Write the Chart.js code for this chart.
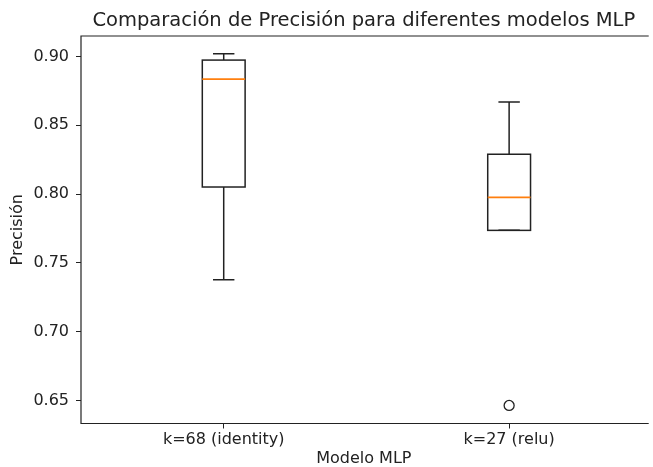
<!DOCTYPE html>
<html>
<head>
<meta charset="utf-8">
<script src="https://cdn.jsdelivr.net/npm/chart.js@4.4.1/dist/chart.umd.min.js"></script>
<style>
  html, body { margin: 0; padding: 0; overflow: hidden; background: #fff; }
</style>
</head>
<body>
<canvas id="boxChart" width="653" height="467"></canvas>
<script>
// data
const modelos = ["k=68 (identity)", "k=27 (relu)"];
const whiskerLow = [0.7378, 0.7736];
const q1 = [0.8051, 0.7736];
const median = [0.8835, 0.7976];
const q3 = [0.8973, 0.8289];
const whiskerHigh = [0.9019, 0.8668];
const outliers = [[], [0.6464]];
const yTicks = [0.65, 0.70, 0.75, 0.80, 0.85, 0.90];

const ink = "#222";
const boxWidth = 0.15; // in x units, like matplotlib
// the original figure is cut on the right, the axis would end at 2.5
const xMaxVisible = 2.482;

Chart.defaults.font.family = "'DejaVu Sans', sans-serif";
Chart.defaults.color = ink;

const flierPoints = [];
outliers.forEach((vals, i) => {
  vals.forEach((v) => flierPoints.push({ x: i + 1, y: v }));
});

const boxPlugin = {
  id: "boxes",
  beforeDatasetsDraw(chart) {
    const { ctx, chartArea } = chart;
    const xs = chart.scales.x;
    const ys = chart.scales.y;
    ctx.save();
    // spines (right one is outside the picture)
    ctx.strokeStyle = ink;
    ctx.lineWidth = 1.2;
    ctx.beginPath();
    ctx.moveTo(chartArea.right + 2, chartArea.top);
    ctx.lineTo(chartArea.left, chartArea.top);
    ctx.lineTo(chartArea.left, chartArea.bottom);
    ctx.lineTo(chartArea.right + 2, chartArea.bottom);
    ctx.stroke();

    modelos.forEach((m, i) => {
      const cx = xs.getPixelForValue(i + 1);
      const half = xs.getPixelForValue(i + 1 + boxWidth / 2) - cx;
      const yq1 = ys.getPixelForValue(q1[i]);
      const yq3 = ys.getPixelForValue(q3[i]);
      const ylo = ys.getPixelForValue(whiskerLow[i]);
      const yhi = ys.getPixelForValue(whiskerHigh[i]);
      const ymed = ys.getPixelForValue(median[i]);

      ctx.strokeStyle = ink;
      ctx.lineWidth = 1.5;
      ctx.strokeRect(cx - half, yq3, half * 2, yq1 - yq3);

      ctx.beginPath();
      ctx.moveTo(cx, yq3); ctx.lineTo(cx, yhi);
      ctx.moveTo(cx, yq1); ctx.lineTo(cx, ylo);
      ctx.moveTo(cx - half / 2, yhi); ctx.lineTo(cx + half / 2, yhi);
      ctx.moveTo(cx - half / 2, ylo); ctx.lineTo(cx + half / 2, ylo);
      ctx.stroke();

      ctx.strokeStyle = "#ff7f0e";
      ctx.lineWidth = 1.6;
      ctx.beginPath();
      ctx.moveTo(cx - half, ymed); ctx.lineTo(cx + half, ymed);
      ctx.stroke();
    });
    ctx.restore();
  },
};

new Chart(document.getElementById("boxChart"), {
  type: "scatter",
  data: {
    datasets: [
      {
        label: "outliers",
        data: flierPoints,
        pointStyle: "circle",
        pointRadius: 5,
        borderWidth: 1.3,
        borderColor: ink,
        backgroundColor: "rgba(0,0,0,0)",
      },
    ],
  },
  options: {
    responsive: false,
    animation: false,
    devicePixelRatio: 1,
    layout: { padding: { left: 0, right: 0, top: 0, bottom: 0 } },
    plugins: {
      legend: { display: false },
      tooltip: { enabled: false },
      title: {
        display: true,
        fullSize: false,
        text: "Comparación de Precisión para diferentes modelos MLP",
        color: ink,
        font: { size: 19.5, weight: "normal" },
        padding: { top: 9, bottom: 3.6 },
      },
    },
    scales: {
      x: {
        type: "linear",
        min: 0.5,
        max: xMaxVisible,
        afterBuildTicks: (scale) => {
          scale.ticks = modelos.map((m, i) => ({ value: i + 1 }));
        },
        afterFit: (scale) => {
          scale.height = 43.5;
        },
        ticks: {
          callback: (v) => modelos[v - 1],
          font: { size: 16 },
          color: ink,
          padding: 2,
          maxRotation: 0,
        },
        grid: { drawOnChartArea: false, drawTicks: true, tickLength: 5, tickColor: ink },
        border: { display: false },
        title: {
          display: true,
          text: "Modelo MLP",
          font: { size: 16 },
          color: ink,
          padding: { top: 0, bottom: -1 },
        },
      },
      y: {
        type: "linear",
        min: 0.6333,
        max: 0.9148,
        afterBuildTicks: (scale) => {
          scale.ticks = yTicks.map((v) => ({ value: v }));
        },
        afterFit: (scale) => {
          scale.width = 81;
        },
        ticks: {
          callback: (v) => v.toFixed(2),
          font: { size: 16 },
          color: ink,
          padding: 7,
        },
        grid: { drawOnChartArea: false, drawTicks: true, tickLength: 5, tickColor: ink },
        border: { display: false },
        title: {
          display: true,
          text: "Precisión",
          font: { size: 16 },
          color: ink,
          padding: { top: 8, bottom: 0 },
        },
      },
    },
  },
  plugins: [boxPlugin],
});
</script>
</body>
</html>
